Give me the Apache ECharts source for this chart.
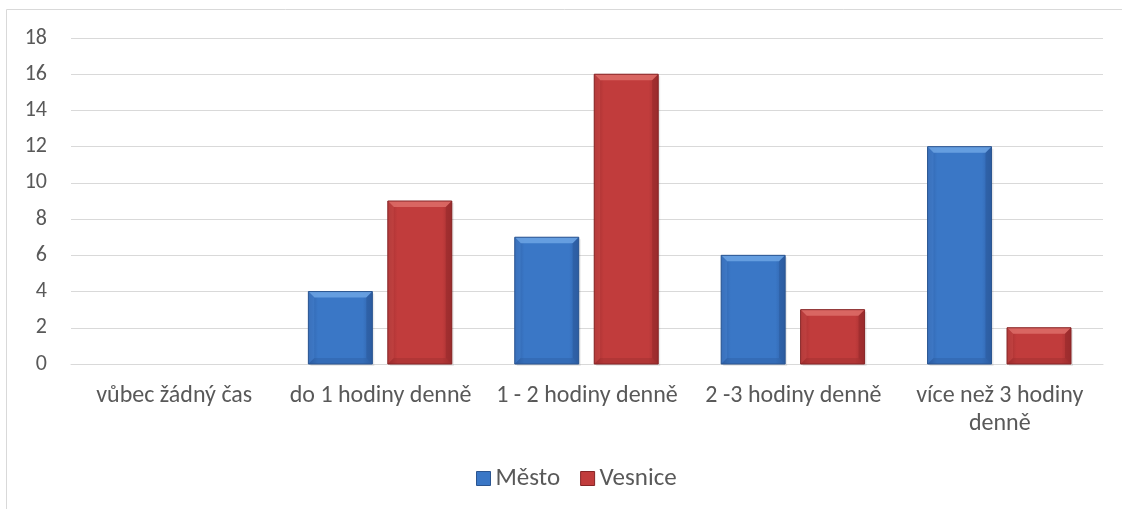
<!DOCTYPE html>
<html><head><meta charset="utf-8">
<script src="https://cdn.jsdelivr.net/npm/echarts@6/dist/echarts.min.js"></script>
<style>html,body{margin:0;padding:0;background:#fff}#c{width:1122px;height:509px}</style>
</head><body><div id="c"></div>
<script>
const categories = ['vůbec žádný čas', 'do 1 hodiny denně', '1 - 2 hodiny denně', '2 -3 hodiny denně', 'více než 3 hodiny denně'];
const mesto = [0, 4, 7, 6, 12];
const vesnice = [0, 9, 16, 3, 2];
const seriesNames = ['Město', 'Vesnice'];

const palettes = [
  {mid: '#3a77c6', edge: '#2e5fa6', top: '#6aa2e2', bottom: '#2a5a9a', left: '#4682cf', right: '#2c5a9c', border: '#2b5590'},
  {mid: '#c13c3c', edge: '#a02e2f', top: '#dc6a66', bottom: '#962a2b', left: '#c94948', right: '#962a2b', border: '#862526'}
];

function bevelBar(pal, offFrac) {
  return function (params, api) {
    const v = api.value(1);
    if (!v) return null;
    const band = api.size([1, 0])[0];
    const bw = band * 0.31;
    const c = api.coord([api.value(0), v]);
    const base = api.coord([api.value(0), 0]);
    const cx = c[0] + band * offFrac;
    const x0 = cx - bw / 2, x1 = cx + bw / 2, y0 = c[1], y1 = base[1];
    const b = Math.min(6, (y1 - y0) / 2);
    const grad = new echarts.graphic.LinearGradient(0, 0, 1, 0, [
      {offset: 0, color: pal.edge}, {offset: 0.15, color: pal.mid}, {offset: 0.85, color: pal.mid}, {offset: 1, color: pal.edge}
    ]);
    return {type: 'group', children: [
      {type: 'rect', shape: {x: x0 + 2, y: y0 + 2, width: bw, height: y1 - y0}, style: {fill: 'rgba(0,0,0,0.08)'}},
      {type: 'rect', shape: {x: x0, y: y0, width: bw, height: y1 - y0}, style: {fill: grad}},
      {type: 'polygon', shape: {points: [[x0, y0], [x1, y0], [x1 - b, y0 + b], [x0 + b, y0 + b]]}, style: {fill: pal.top, opacity: 0.9}},
      {type: 'polygon', shape: {points: [[x0, y0], [x0 + b, y0 + b], [x0 + b, y1 - b], [x0, y1]]}, style: {fill: pal.left, opacity: 0.5}},
      {type: 'polygon', shape: {points: [[x1, y0], [x1 - b, y0 + b], [x1 - b, y1 - b], [x1, y1]]}, style: {fill: pal.right, opacity: 0.6}},
      {type: 'polygon', shape: {points: [[x0, y1], [x0 + b, y1 - b], [x1 - b, y1 - b], [x1, y1]]}, style: {fill: pal.bottom, opacity: 0.35}},
      {type: 'rect', shape: {x: x0, y: y0, width: bw, height: y1 - y0}, style: {fill: 'none', stroke: pal.border, lineWidth: 1}}
    ]};
  };
}

function wrapLabel(s) {
  if (s.length <= 20) return s;
  const i = s.lastIndexOf(' ');
  return s.slice(0, i) + '\n' + s.slice(i + 1);
}

const chart = echarts.init(document.getElementById('c'));
const font = 'Carlito, Lato, sans-serif';
chart.setOption({
  animation: false,
  graphic: [{type: 'rect', shape: {x: 6.5, y: 9.5, width: 1130, height: 520}, style: {fill: 'none', stroke: '#d9d9d9', lineWidth: 1}, silent: true}],
  grid: {left: 71, right: 19, top: 38, bottom: 145},
  legend: {
    bottom: 13, left: 471, itemWidth: 14, itemHeight: 14, itemGap: 20,
    icon: 'rect',
    data: [{name: seriesNames[0], itemStyle: {color: palettes[0].mid, borderColor: palettes[0].border, borderWidth: 1}},
           {name: seriesNames[1], itemStyle: {color: palettes[1].mid, borderColor: palettes[1].border, borderWidth: 1}}],
    textStyle: {fontSize: 25, color: '#595959', fontFamily: font}
  },
  xAxis: {
    type: 'category', data: categories,
    axisLine: {lineStyle: {color: '#d9d9d9'}}, axisTick: {show: false},
    axisLabel: {fontSize: 24, color: '#595959', fontFamily: font, margin: 18, interval: 0, lineHeight: 28, formatter: wrapLabel}
  },
  yAxis: {
    type: 'value', min: 0, max: 18, interval: 2,
    axisLine: {show: false}, axisTick: {show: false},
    splitLine: {lineStyle: {color: '#d9d9d9'}},
    axisLabel: {fontSize: 22, color: '#595959', fontFamily: font, margin: 24}
  },
  series: [
    {name: seriesNames[0], type: 'custom', data: mesto.map((v, i) => [i, v]), encode: {x: 0, y: 1},
     itemStyle: {color: palettes[0].mid}, renderItem: bevelBar(palettes[0], -0.195)},
    {name: seriesNames[1], type: 'custom', data: vesnice.map((v, i) => [i, v]), encode: {x: 0, y: 1},
     itemStyle: {color: palettes[1].mid}, renderItem: bevelBar(palettes[1], 0.19)}
  ]
});
</script></body></html>
